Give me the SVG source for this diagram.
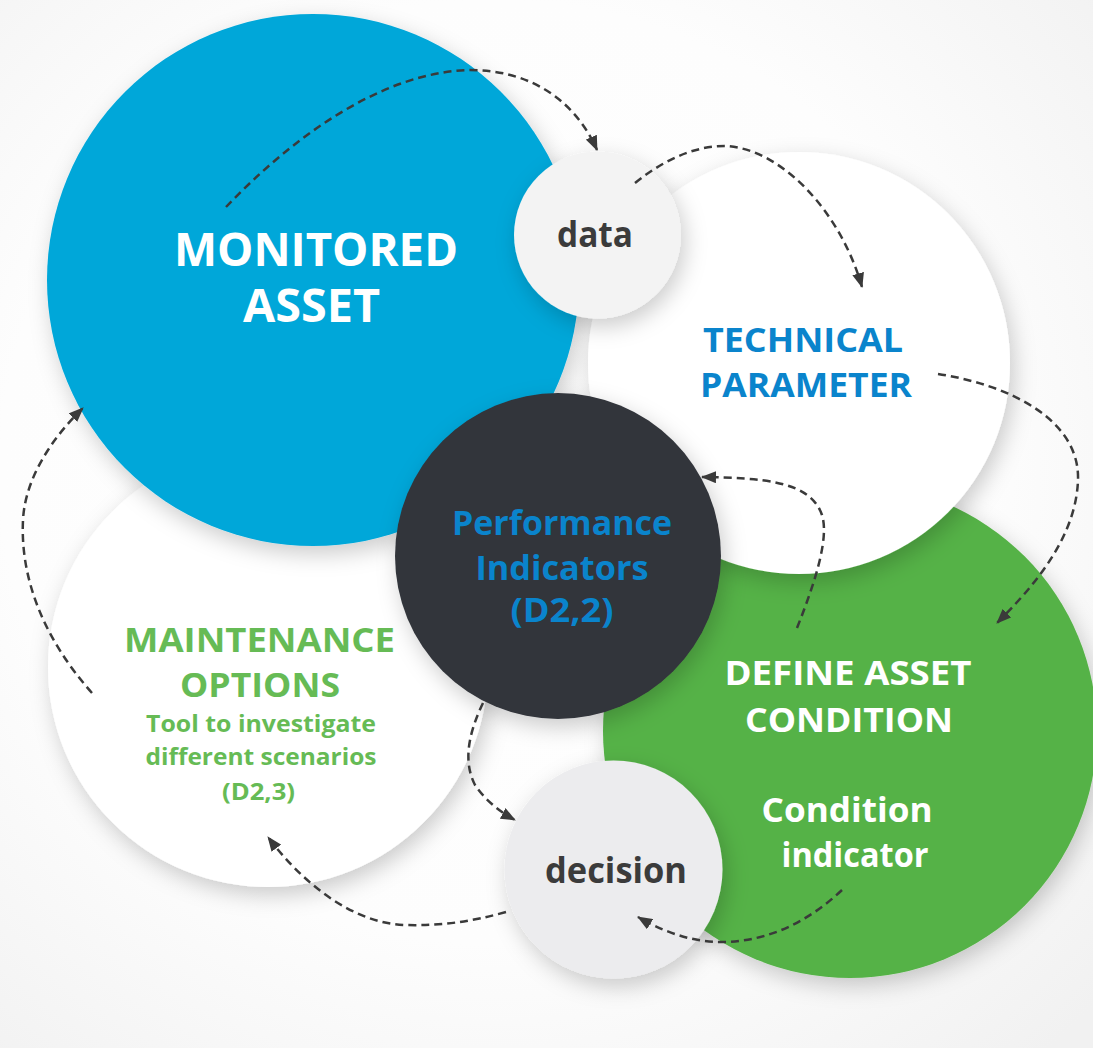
<svg xmlns="http://www.w3.org/2000/svg" width="1093" height="1048" viewBox="0 0 1093 1048">
  <defs>
    <radialGradient id="bg" cx="0.45" cy="0.45" r="0.75">
      <stop offset="0" stop-color="#ffffff"/>
      <stop offset="0.6" stop-color="#fdfdfd"/>
      <stop offset="1" stop-color="#f1f1f1"/>
    </radialGradient>
    <filter id="sh" x="-30%" y="-30%" width="160%" height="160%">
      <feDropShadow dx="4" dy="8" stdDeviation="11" flood-color="#000" flood-opacity="0.2"/>
    </filter>
    <marker id="ah" viewBox="0 0 15 12" refX="14" refY="6" markerWidth="15" markerHeight="12" markerUnits="userSpaceOnUse" orient="auto">
      <path d="M0,0 L15,6 L0,12 Z" fill="#3a3a3a"/>
    </marker>
  </defs>
  <style>
    .t { font-family: "Open Sans", "Noto Sans", "Liberation Sans", sans-serif; font-weight: bold; text-anchor: middle; }
    .big { font-size: 46px; fill: #ffffff; }
    .lbl { font-size: 34px; }
    .sub { font-size: 23px; fill: #66bb55; }
    .dk { fill: #3b3b3b; }
    .bl { fill: #0a84cc; }
    .gr { fill: #66bb55; }
    .wh { fill: #ffffff; }
    .conn path { fill: none; stroke: #3a3a3a; stroke-width: 2.5; stroke-dasharray: 8 5; marker-end: url(#ah); }
  </style>

  <rect x="0" y="0" width="1093" height="1048" fill="url(#bg)"/>

  <g id="define-asset-condition">
    <circle cx="850" cy="731" r="247" fill="#55b247" filter="url(#sh)"/>
  </g>
  <g id="maintenance-options">
    <circle cx="268" cy="667" r="220" fill="#ffffff" filter="url(#sh)"/>
  </g>
  <g id="monitored-asset">
    <circle cx="313" cy="280" r="266" fill="#02a7d9" filter="url(#sh)"/>
  </g>
  <g id="technical-parameter">
    <circle cx="799" cy="363" r="211" fill="#ffffff" filter="url(#sh)"/>
  </g>
  <g id="performance-indicators">
    <circle cx="558" cy="556" r="163" fill="#32353b" filter="url(#sh)"/>
  </g>
  <g id="data">
    <circle cx="597.5" cy="235" r="83.5" fill="#f3f3f3" filter="url(#sh)"/>
  </g>
  <g id="decision">
    <circle cx="613.5" cy="869.5" r="109" fill="#ececee" filter="url(#sh)"/>
  </g>

  <g id="labels">
    <text class="t big"><tspan x="316" y="266" textLength="284" lengthAdjust="spacingAndGlyphs">MONITORED</tspan><tspan x="311.5" y="322" textLength="137" lengthAdjust="spacingAndGlyphs">ASSET</tspan></text>
    <text class="t dk" x="595" y="247" font-size="35" textLength="76" lengthAdjust="spacingAndGlyphs">data</text>
    <text class="t lbl bl"><tspan x="803" y="352" textLength="200" lengthAdjust="spacingAndGlyphs">TECHNICAL</tspan><tspan x="806" y="397" textLength="212" lengthAdjust="spacingAndGlyphs">PARAMETER</tspan></text>
    <text class="t lbl bl"><tspan x="562" y="535" textLength="220" lengthAdjust="spacingAndGlyphs">Performance</tspan><tspan x="562" y="580" textLength="173" lengthAdjust="spacingAndGlyphs">Indicators</tspan><tspan x="562" y="622" textLength="103" lengthAdjust="spacingAndGlyphs">(D2,2)</tspan></text>
    <text class="t lbl gr"><tspan x="259.5" y="652" textLength="271" lengthAdjust="spacingAndGlyphs">MAINTENANCE</tspan><tspan x="260" y="697" textLength="160" lengthAdjust="spacingAndGlyphs">OPTIONS</tspan></text>
    <text class="t sub"><tspan x="261" y="732" textLength="230" lengthAdjust="spacingAndGlyphs">Tool to investigate</tspan><tspan x="261" y="765" textLength="231" lengthAdjust="spacingAndGlyphs">different scenarios</tspan><tspan x="258.5" y="800" textLength="73" lengthAdjust="spacingAndGlyphs">(D2,3)</tspan></text>
    <text class="t lbl wh"><tspan x="848" y="685" textLength="247" lengthAdjust="spacingAndGlyphs">DEFINE ASSET</tspan><tspan x="849" y="732" textLength="208" lengthAdjust="spacingAndGlyphs">CONDITION</tspan></text>
    <text class="t lbl wh"><tspan x="847" y="822" textLength="171" lengthAdjust="spacingAndGlyphs">Condition</tspan><tspan x="855" y="867" textLength="147" lengthAdjust="spacingAndGlyphs">indicator</tspan></text>
    <text class="t dk" x="616" y="883" font-size="36" textLength="142" lengthAdjust="spacingAndGlyphs">decision</text>
  </g>

  <g id="connectors" class="conn">
    <path d="M226,207 C290,140 380,72 470,70 C530,70 575,100 597,150"/>
    <path d="M635,183 C670,155 700,146 725,146 C780,148 840,210 862,287"/>
    <path d="M938,374 C1010,385 1080,420 1078,480 C1076,540 1030,590 997,623"/>
    <path d="M797,628 C812,590 830,540 822,515 C810,480 760,478 702,477"/>
    <path d="M483,703 C470,730 462,760 475,785 C485,800 500,812 515,820"/>
    <path d="M842,890 C810,920 770,942 720,942 C690,942 660,930 638,917"/>
    <path d="M506,912 C470,922 440,926 405,925 C350,923 300,880 268,837"/>
    <path d="M92,693 C45,640 20,580 23,520 C25,480 50,440 83,408"/>
  </g>
</svg>
